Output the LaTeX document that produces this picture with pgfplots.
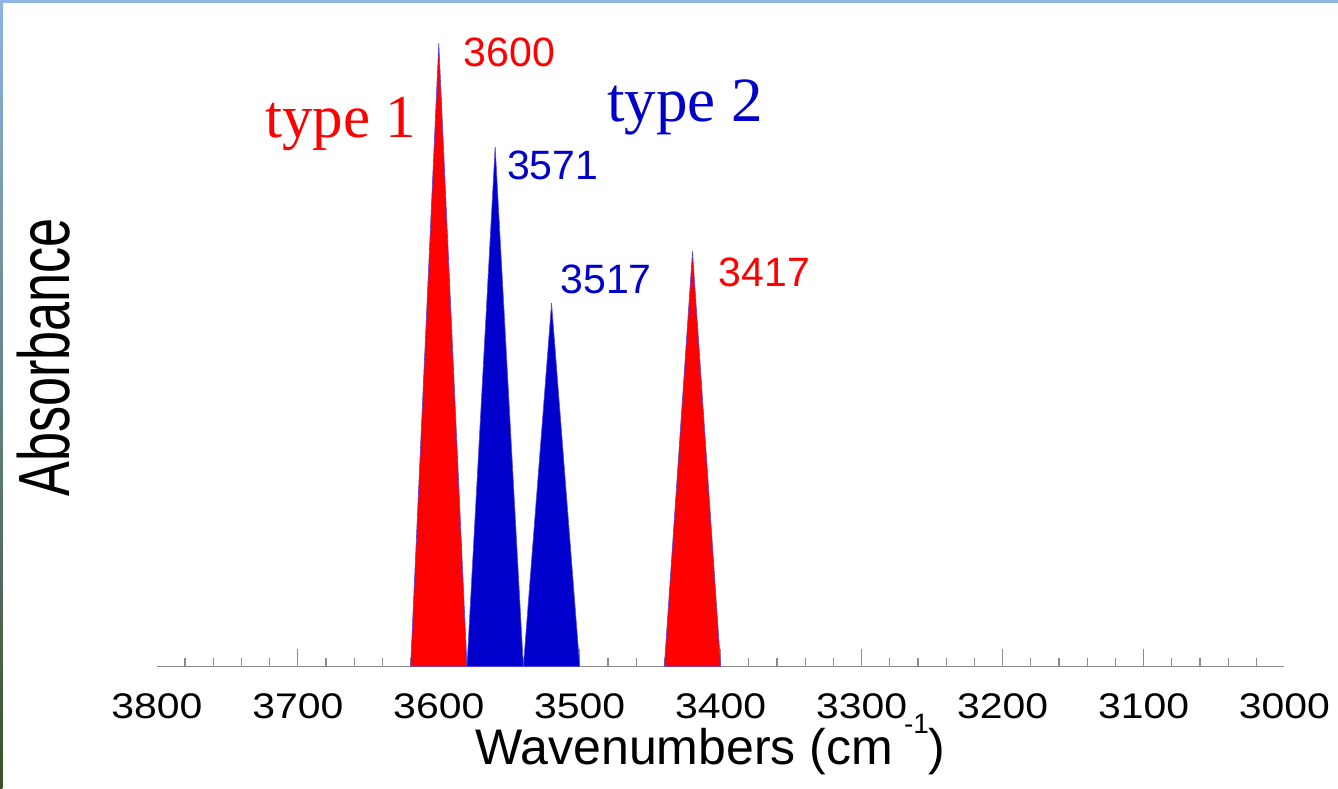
\documentclass[border=0pt]{standalone}
\usepackage{pgfplots}
\pgfplotsset{compat=1.18}
\usepackage{fontspec}
\setmainfont{Liberation Sans}
\newfontfamily\seriffont{Liberation Serif}
\definecolor{myred}{RGB}{255,0,0}
\definecolor{myblue}{RGB}{0,0,204}
\definecolor{edge}{RGB}{90,70,230}
\definecolor{axgray}{RGB}{140,140,140}
\definecolor{topband}{RGB}{141,180,227}
\definecolor{leftmid}{RGB}{95,115,100}
\definecolor{leftdark}{RGB}{60,80,40}
\begin{document}
\begin{tikzpicture}
\useasboundingbox (0,0) rectangle (669pt,394pt);
\fill[white] (0,0) rectangle (669pt,394pt);
\fill[topband] (0,392.3pt) rectangle (669pt,394pt);
\shade[top color=topband, middle color=leftmid, bottom color=leftdark] (0,0) rectangle (1.2pt,394pt);
\begin{axis}[
  at={(78.45pt,60.65pt)}, anchor=south west,
  scale only axis, width=563.8pt, height=311.7pt,
  x dir=reverse, xmin=3000, xmax=3800, ymin=0, ymax=1,
  axis y line=none, axis x line=bottom,
  x axis line style={-, draw=axgray, line width=0.75pt},
  xtick={3000,3100,3200,3300,3400,3500,3600,3700,3800},
  xticklabels={\scalebox{1.15}[1]{3000},\scalebox{1.15}[1]{3100},\scalebox{1.15}[1]{3200},\scalebox{1.15}[1]{3300},\scalebox{1.15}[1]{3400},\scalebox{1.15}[1]{3500},\scalebox{1.15}[1]{3600},\scalebox{1.15}[1]{3700},\scalebox{1.15}[1]{3800}},
  major tick length=0pt,
  minor xtick={3020,3040,...,3780},
  minor tick length=4.5pt,
  tick align=inside,
  tick style={axgray, line width=0.6pt},
  extra x ticks={3100,3200,3300,3400,3500,3600,3700},
  extra x tick labels={},
  extra x tick style={major tick length=9pt},
  xticklabel style={anchor=base, yshift=-25.65pt, inner sep=0pt, font=\fontsize{17.8}{18}\selectfont},
]
\addplot[fill=myred, draw=edge, line width=0.3pt] coordinates {(3620,0) (3600,1.000) (3580,0)} \closedcycle;
\addplot[fill=myblue, draw=edge, line width=0.3pt] coordinates {(3580,0) (3560,0.834) (3540,0)} \closedcycle;
\addplot[fill=myblue, draw=edge, line width=0.3pt] coordinates {(3540,0) (3520,0.583) (3500,0)} \closedcycle;
\addplot[fill=myred, draw=edge, line width=0.3pt] coordinates {(3440,0) (3420,0.666) (3400,0)} \closedcycle;
\end{axis}
\node[anchor=base west, inner sep=0pt, text=myred, font=\seriffont\fontsize{30.5}{32}\selectfont] at (132.5pt,325.35pt) {type 1};
\node[anchor=base west, inner sep=0pt, text=myblue, font=\seriffont\fontsize{31.5}{33}\selectfont] at (303.3pt,333.15pt) {type 2};
\node[anchor=base west, inner sep=0pt, text=myred, font=\fontsize{20.5}{22}\selectfont] at (231.65pt,360.65pt) {3600};
\node[anchor=base west, inner sep=0pt, text=myblue, font=\fontsize{20.5}{22}\selectfont] at (253.35pt,304pt) {3571};
\node[anchor=base west, inner sep=0pt, text=myblue, font=\fontsize{20.5}{22}\selectfont] at (280pt,247.35pt) {3517};
\node[anchor=base west, inner sep=0pt, text=myred, font=\fontsize{20.5}{22}\selectfont] at (359.15pt,250.65pt) {3417};
\node[rotate=90, inner sep=0pt, anchor=center] at (21.65pt,215.25pt) {\scalebox{1}[1.39]{\fontsize{26.1}{28}\selectfont Absorbance}};
\node[anchor=base west, inner sep=0pt, font=\fontsize{25}{27}\selectfont] at (237.5pt,12pt) {Wavenumbers (cm\kern5.5pt\raisebox{15.5pt}{\fontsize{14}{15}\selectfont -1})};
\end{tikzpicture}
\end{document}
